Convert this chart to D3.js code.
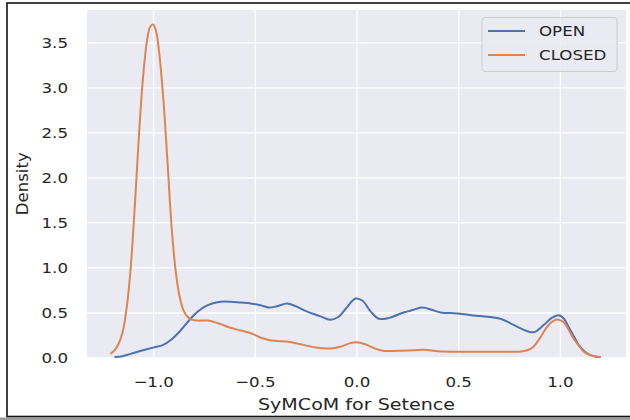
<!DOCTYPE html>
<html>
<head>
<meta charset="utf-8">
<script src="https://cdn.jsdelivr.net/npm/d3@7"></script>
<style>
  body { margin: 0; background: #fff; }
  svg text { font-family: "DejaVu Sans", sans-serif; fill: #262626; }
  .stretch { transform-box: fill-box; transform: scaleX(1.15); transform-origin: center; }
  .ytick text { transform-box: fill-box; transform: scaleX(1.15); transform-origin: right center; }
  .xtick text { transform-box: fill-box; transform: scaleX(1.15); transform-origin: center; }
  .leg text { transform-box: fill-box; transform: scaleX(1.15); transform-origin: left center; }
</style>
</head>
<body>
<div id="chart"></div>
<script>
// KDE curves
var open_x = [-1.19, -1.15, -1.11, -1.06, -1.00, -0.95, -0.91, -0.865, -0.816, -0.78, -0.75, -0.71, -0.668, -0.62, -0.57, -0.52, -0.472, -0.431, -0.39, -0.341, -0.30, -0.242, -0.18, -0.128, -0.09, -0.05, -0.005, 0.03, 0.07, 0.11, 0.16, 0.232, 0.28, 0.323, 0.37, 0.413, 0.495, 0.55, 0.609, 0.658, 0.708, 0.757, 0.81, 0.871, 0.92, 0.96, 0.994, 1.02, 1.043, 1.07, 1.092, 1.12, 1.15, 1.18, 1.20];
var open_y = [0.005, 0.015, 0.04, 0.075, 0.11, 0.14, 0.20, 0.30, 0.43, 0.51, 0.56, 0.60, 0.62, 0.62, 0.61, 0.60, 0.58, 0.555, 0.57, 0.60, 0.57, 0.51, 0.46, 0.42, 0.45, 0.55, 0.655, 0.63, 0.51, 0.43, 0.44, 0.50, 0.53, 0.555, 0.53, 0.50, 0.49, 0.475, 0.46, 0.45, 0.43, 0.38, 0.32, 0.28, 0.36, 0.44, 0.47, 0.43, 0.34, 0.23, 0.14, 0.07, 0.026, 0.008, 0.002];

var closed_x = [-1.21, -1.19, -1.17, -1.15, -1.13, -1.11, -1.09, -1.07, -1.05, -1.03, -1.015, -1.00, -0.985, -0.97, -0.95, -0.93, -0.91, -0.89, -0.87, -0.85, -0.83, -0.81, -0.78, -0.73, -0.68, -0.62, -0.57, -0.52, -0.47, -0.42, -0.37, -0.32, -0.26, -0.20, -0.13, -0.08, -0.03, 0.00, 0.04, 0.09, 0.13, 0.20, 0.28, 0.33, 0.40, 0.47, 0.60, 0.72, 0.80, 0.84, 0.87, 0.90, 0.94, 0.97, 0.995, 1.02, 1.045, 1.07, 1.09, 1.115, 1.14, 1.17, 1.20];
var closed_y = [0.04, 0.08, 0.15, 0.28, 0.55, 1.00, 1.68, 2.45, 3.10, 3.52, 3.67, 3.70, 3.62, 3.38, 2.88, 2.20, 1.48, 0.98, 0.68, 0.52, 0.45, 0.42, 0.41, 0.41, 0.38, 0.33, 0.30, 0.27, 0.22, 0.19, 0.18, 0.17, 0.14, 0.11, 0.10, 0.12, 0.16, 0.17, 0.15, 0.10, 0.075, 0.075, 0.08, 0.085, 0.07, 0.065, 0.065, 0.065, 0.065, 0.08, 0.12, 0.21, 0.35, 0.41, 0.42, 0.39, 0.30, 0.20, 0.14, 0.07, 0.035, 0.015, 0.005];

var series_names = ["OPEN", "CLOSED"];
var series_colors = ["#4c72b0", "#dd8452"];
var x_ticks = [-1.0, -0.5, 0.0, 0.5, 1.0];
var y_ticks = [0.0, 0.5, 1.0, 1.5, 2.0, 2.5, 3.0, 3.5];

var W = 630, H = 420;
var margin = {top: 10, right: 4, bottom: 62.5, left: 87},
    width = W - margin.left - margin.right,
    height = H - margin.top - margin.bottom;

var svg = d3.select("#chart").append("svg")
    .attr("width", W)
    .attr("height", H);

// outer frame of the screenshot
svg.append("rect")
    .attr("x", 0).attr("y", 417.5).attr("width", W).attr("height", 2.5)
    .attr("fill", "#9a9a9a");
svg.append("rect")
    .attr("x", 7).attr("y", 3).attr("width", 640).attr("height", 413.5)
    .attr("fill", "#fff")
    .attr("stroke", "#111")
    .attr("stroke-width", 1.6);

var g = svg.append("g")
    .attr("transform", "translate(" + margin.left + "," + margin.top + ")");

var x = d3.scaleLinear().domain([-1.325, 1.325]).range([0, width]);
var y = d3.scaleLinear().domain([0, 3.86]).range([height, 0]);

g.append("rect")
    .attr("width", width)
    .attr("height", height)
    .attr("fill", "#eaeaf2");

var fmt = d3.format(".1f");

var gx = g.append("g")
    .attr("class", "xtick")
    .attr("transform", "translate(0," + height + ")")
    .call(d3.axisBottom(x).tickValues(x_ticks).tickSize(-height).tickPadding(19.5).tickFormat(fmt));

var gy = g.append("g")
    .attr("class", "ytick")
    .call(d3.axisLeft(y).tickValues(y_ticks).tickSize(-width).tickPadding(19).tickFormat(fmt));

[gx, gy].forEach(function(ax) {
    ax.select(".domain").remove();
    ax.selectAll("line").attr("stroke", "#fff").attr("stroke-width", 1.3);
    ax.selectAll("text")
	.style("font-size", "14.5px")
	.attr("fill", "#262626");
});

var line = d3.line()
    .curve(d3.curveCatmullRom.alpha(0.5))
    .x(function(d) { return x(d[0]); })
    .y(function(d) { return y(d[1]); });

var curves = [
    d3.zip(open_x, open_y),
    d3.zip(closed_x, closed_y)
];

g.selectAll(".kde")
    .data(curves)
    .enter().append("path")
    .attr("class", "kde")
    .attr("d", line)
    .attr("fill", "none")
    .attr("stroke", function(d, i) { return series_colors[i]; })
    .attr("stroke-width", 2)
    .attr("stroke-linejoin", "round");

// axis labels
svg.append("text")
    .attr("class", "stretch")
    .attr("x", margin.left + width / 2)
    .attr("y", 410)
    .attr("text-anchor", "middle")
    .style("font-size", "16.6px")
    .text("SyMCoM for Setence");

svg.append("text")
    .attr("transform", "translate(28," + (margin.top + height / 2) + ") rotate(-90)")
    .attr("text-anchor", "middle")
    .style("font-size", "16.6px")
    .text("Density");

// legend
var legend = svg.append("g").attr("class", "leg");
legend.append("rect")
    .attr("x", 482).attr("y", 17.5)
    .attr("width", 135).attr("height", 54)
    .attr("rx", 3)
    .attr("fill", "#eaeaf2")
    .attr("fill-opacity", 0.8)
    .attr("stroke", "#cccccc")
    .attr("stroke-width", 1);

var items = legend.selectAll(".item")
    .data(series_names)
    .enter().append("g")
    .attr("class", "item")
    .attr("transform", function(d, i) { return "translate(0," + (31 + i * 24) + ")"; });

items.append("line")
    .attr("x1", 488).attr("x2", 525)
    .attr("stroke", function(d, i) { return series_colors[i]; })
    .attr("stroke-width", 2);

items.append("text")
    .attr("x", 539)
    .attr("dy", "0.36em")
    .style("font-size", "14.5px")
    .text(function(d) { return d; });
</script>
</body>
</html>
